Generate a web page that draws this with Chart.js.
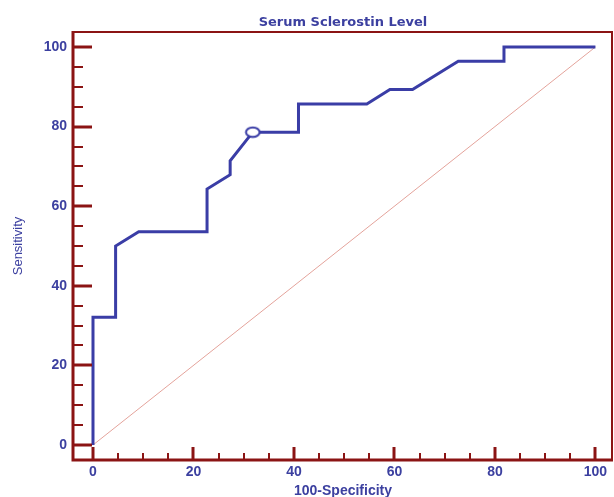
<!DOCTYPE html>
<html>
<head>
<meta charset="utf-8">
<script src="https://cdn.jsdelivr.net/npm/chart.js@4/dist/chart.umd.min.js"></script>
<style>
  html, body { margin: 0; padding: 0; background: #fff; overflow: hidden; }
  #wrap { width: 614px; height: 497px; position: relative; }
</style>
</head>
<body>
<div id="wrap"><canvas id="rocChart"></canvas></div>
<script>
// ROC curve (100-Specificity vs Sensitivity)
const rocX = [0, 0, 4.5, 4.5, 9.1, 22.7, 22.7, 27.3, 27.3, 31.8, 40.9, 40.9, 54.5, 59.1, 63.6, 72.7, 81.8, 81.8, 100];
const rocY = [0, 32.1, 32.1, 50, 53.6, 53.6, 64.3, 67.9, 71.4, 78.6, 78.6, 85.7, 85.7, 89.3, 89.3, 96.4, 96.4, 100, 100];

// reference (chance) diagonal
const diagX = [0, 100];
const diagY = [0, 100];

// optimal criterion point
const critX = [31.8];
const critY = [78.6];

const xTicks = [0, 20, 40, 60, 80, 100];
const yTicks = [0, 20, 40, 60, 80, 100];

const blue = '#3a3da6';
const textBlue = '#3c40a0';
const darkRed = '#8b1414';

const toPoints = (xs, ys) => xs.map((x, i) => ({ x: x, y: ys[i] }));

// small open ellipse used as the criterion marker
function ellipseMarker() {
    const c = document.createElement('canvas');
    c.width = 17;
    c.height = 13;
    const g = c.getContext('2d');
    g.fillStyle = '#fff';
    g.strokeStyle = blue;
    g.lineWidth = 2;
    g.beginPath();
    g.ellipse(8.5, 6.5, 6.8, 4.8, 0, 0, Math.PI * 2);
    g.fill();
    g.stroke();
    return c;
}

// frame + inward ticks, drawn with the chart's own scales
const framePlugin = {
    id: 'frame',
    afterDraw(chart) {
        const { ctx, chartArea: a, scales } = chart;
        ctx.save();
        ctx.strokeStyle = darkRed;
        ctx.lineCap = 'butt';

        // y ticks (every 5, major every 20)
        for (let v = 0; v <= 100; v += 5) {
            const py = Math.round(scales.y.getPixelForValue(v));
            const major = v % 20 === 0;
            ctx.lineWidth = major ? 3 : 2;
            ctx.beginPath();
            ctx.moveTo(a.left, py);
            ctx.lineTo(a.left + (major ? 19 : 10), py);
            ctx.stroke();
        }
        // x ticks
        for (let v = 0; v <= 100; v += 5) {
            const px = Math.round(scales.x.getPixelForValue(v));
            const major = v % 20 === 0;
            ctx.lineWidth = major ? 3 : 2;
            ctx.beginPath();
            ctx.moveTo(px, a.bottom);
            ctx.lineTo(px, a.bottom - (major ? 13 : 7));
            ctx.stroke();
        }

        // top and right (thinner)
        ctx.lineWidth = 2;
        ctx.beginPath();
        ctx.moveTo(a.left, a.top);
        ctx.lineTo(a.right - 1, a.top);
        ctx.lineTo(a.right - 1, a.bottom);
        ctx.stroke();

        // left and bottom (thicker)
        ctx.lineWidth = 3;
        ctx.beginPath();
        ctx.moveTo(a.left, a.top - 1);
        ctx.lineTo(a.left, a.bottom);
        ctx.lineTo(a.right, a.bottom);
        ctx.stroke();
        ctx.restore();
    }
};

const ctx = document.getElementById('rocChart').getContext('2d');
const rocChart = new Chart(ctx, {
    type: 'line',
    data: {
        datasets: [{
            label: 'Diagonal',
            data: toPoints(diagX, diagY),
            order: 3,
            borderColor: '#e4a39b',
            borderWidth: 1,
            pointRadius: 0,
            fill: false,
            tension: 0
        }, {
            label: 'Serum Sclerostin Level',
            data: toPoints(rocX, rocY),
            order: 2,
            borderColor: blue,
            borderWidth: 3,
            pointRadius: 0,
            fill: false,
            tension: 0
        }, {
            label: 'Criterion',
            data: toPoints(critX, critY),
            order: 1,
            showLine: false,
            pointStyle: ellipseMarker(),
            pointRadius: 6
        }]
    },
    options: {
        responsive: true,
        maintainAspectRatio: false,
        animation: false,
        layout: {
            autoPadding: false,
            padding: { left: 0, right: 1, top: 0, bottom: 0 }
        },
        plugins: {
            legend: { display: false },
            tooltip: { enabled: false },
            title: {
                display: true,
                fullSize: false,
                text: 'Serum Sclerostin Level',
                color: textBlue,
                font: { family: 'DejaVu Sans', size: 13, weight: 'bold' },
                padding: { top: 15, bottom: 1.4 }
            }
        },
        scales: {
            x: {
                type: 'linear',
                min: -3.98,
                max: 103.5,
                afterBuildTicks(scale) {
                    scale.ticks = xTicks.map(v => ({ value: v }));
                },
                afterFit(scale) {
                    scale.height = 37;
                    scale.paddingLeft = 0;
                    scale.paddingRight = 0;
                },
                grid: { display: false, drawTicks: false },
                border: { display: false },
                ticks: {
                    color: textBlue,
                    padding: 4,
                    maxRotation: 0,
                    font: { family: 'Liberation Sans', size: 14, weight: 'bold' }
                },
                title: {
                    display: true,
                    text: '100-Specificity',
                    color: textBlue,
                    padding: { top: 0, bottom: -2.5 },
                    font: { family: 'Liberation Sans', size: 14, weight: 'bold' }
                }
            },
            y: {
                type: 'linear',
                min: -3.77,
                max: 103.77,
                afterBuildTicks(scale) {
                    scale.ticks = yTicks.map(v => ({ value: v }));
                },
                afterFit(scale) {
                    scale.width = 73;
                    scale.paddingTop = 0;
                    scale.paddingBottom = 0;
                },
                grid: { display: false, drawTicks: false },
                border: { display: false },
                ticks: {
                    color: textBlue,
                    padding: 6,
                    font: { family: 'Liberation Sans', size: 14, weight: 'bold' }
                },
                title: {
                    display: true,
                    text: 'Sensitivity',
                    color: textBlue,
                    padding: { top: 11, bottom: 0 },
                    font: { family: 'Liberation Sans', size: 13 }
                }
            }
        }
    },
    plugins: [framePlugin]
});
</script>
</body>
</html>
